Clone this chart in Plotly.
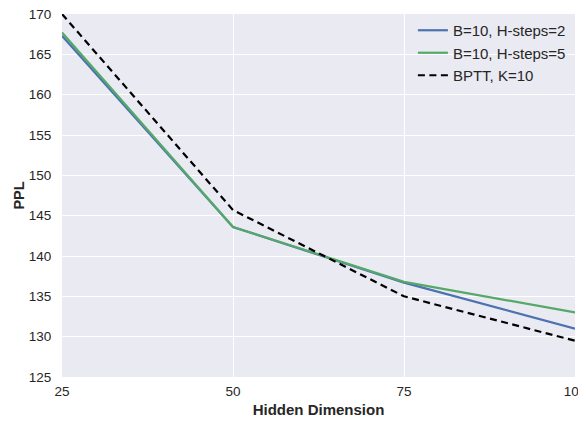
import plotly.graph_objects as go

hidden_dim = [25, 50, 75, 100]
h2 = [167.3, 143.6, 136.7, 131.0]
h5 = [167.7, 143.6, 136.8, 133.0]
bptt = [170.0, 145.7, 135.0, 129.5]

x_ticks = [25, 50, 75, 100]
y_ticks = [125, 130, 135, 140, 145, 150, 155, 160, 165, 170]

FONT = "Liberation Sans, Arial, sans-serif"

fig = go.Figure()
fig.add_trace(go.Scatter(x=hidden_dim, y=h2, mode="lines", name="B=10, H-steps=2",
                         line=dict(color="#4C72B0", width=2.2)))
fig.add_trace(go.Scatter(x=hidden_dim, y=h5, mode="lines", name="B=10, H-steps=5",
                         line=dict(color="#55A868", width=2.2)))
fig.add_trace(go.Scatter(x=hidden_dim, y=bptt, mode="lines", name="BPTT, K=10",
                         line=dict(color="black", width=2.2, dash="7px,4.5px")))

# page body has an 8px default margin, so the figure is sized/offset to compensate
fig.update_layout(
    width=578, height=413,
    margin=dict(l=54, r=11, t=6, b=44),
    paper_bgcolor="white",
    plot_bgcolor="#EAEAF2",
    font=dict(family=FONT, size=13.5, color="#262626"),
    showlegend=True,
    legend=dict(x=0.684, y=1.0, xanchor="left", yanchor="top",
                bgcolor="rgba(0,0,0,0)", font=dict(size=15, color="#262626"),
                tracegroupgap=0, itemwidth=30),
    xaxis=dict(range=[25, 100], tickvals=x_ticks, ticktext=[str(v) for v in x_ticks],
               showgrid=True, gridcolor="white", gridwidth=1.3, zeroline=False,
               showline=False, ticks="outside", ticklen=2, tickcolor="rgba(0,0,0,0)",
               automargin=False, ticklabeloverflow="allow",
               title=dict(text="<b>Hidden Dimension</b>", font=dict(size=15), standoff=6)),
    yaxis=dict(range=[125, 170], tickvals=y_ticks, ticktext=[str(v) for v in y_ticks],
               showgrid=True, gridcolor="white", gridwidth=1.3, zeroline=False,
               showline=False, ticks="outside", ticklen=7, tickcolor="rgba(0,0,0,0)",
               automargin=False, ticklabeloverflow="allow",
               title=dict(text="<b>PPL</b>", font=dict(size=14.5), standoff=0)),
)

fig.write_html("out.html")
